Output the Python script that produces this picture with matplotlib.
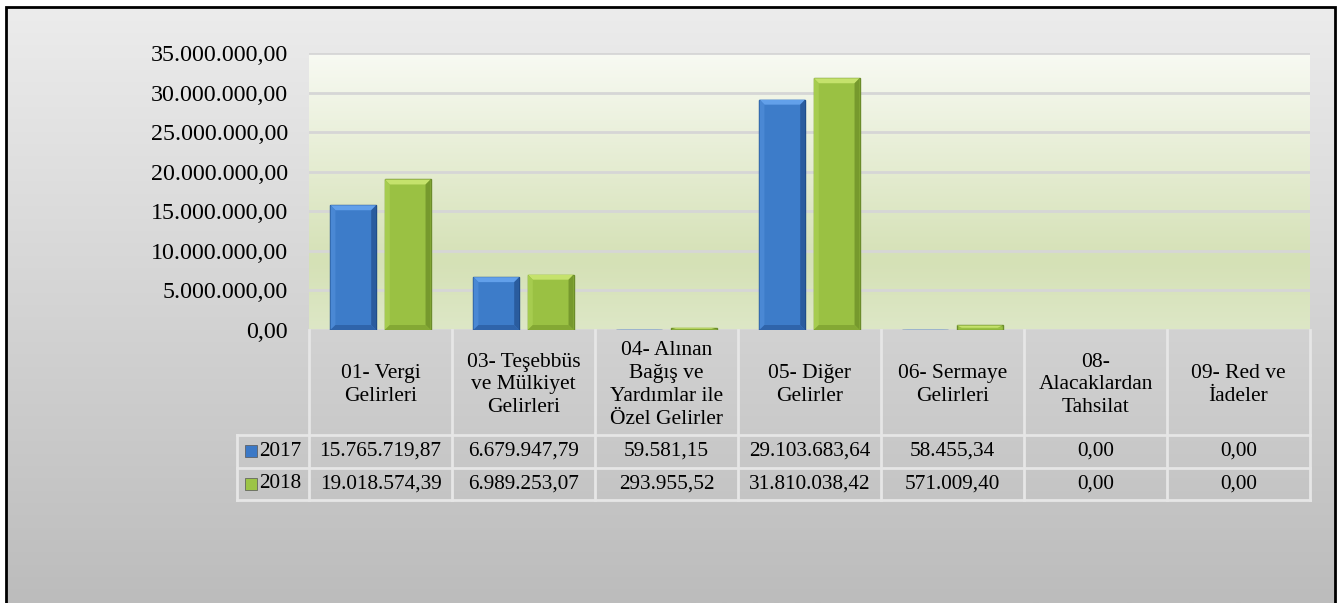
import matplotlib

matplotlib.use("Agg")
import matplotlib.pyplot as plt
import numpy as np
from matplotlib.colors import LinearSegmentedColormap
from matplotlib.patches import Rectangle

plt.rcParams["font.family"] = ["Liberation Serif", "DejaVu Serif"]

# ---- data -----------------------------------------------------------------
categories = [
    "01- Vergi\nGelirleri",
    "03- Teşebbüs\nve Mülkiyet\nGelirleri",
    "04- Alınan\nBağış ve\nYardımlar ile\nÖzel Gelirler",
    "05- Diğer\nGelirler",
    "06- Sermaye\nGelirleri",
    "08-\nAlacaklardan\nTahsilat",
    "09- Red ve\nİadeler",
]
years = ["2017", "2018"]
v2017 = [15765719.87, 6679947.79, 59581.15, 29103683.64, 58455.34, 0.00, 0.00]
v2018 = [19018574.39, 6989253.07, 293955.52, 31810038.42, 571009.40, 0.00, 0.00]
yticks = [0, 5e6, 10e6, 15e6, 20e6, 25e6, 30e6, 35e6]


def tr_fmt(v):
    s = f"{v:,.2f}"
    return s.replace(",", "X").replace(".", ",").replace("X", ".")


W, H = 1339, 603
fig = plt.figure(figsize=(W / 100, H / 100), dpi=100, facecolor="white")

# figure background gradient inside the frame
bg = fig.add_axes([6 / W, 0, (1335 - 6) / W, 1 - 7 / H], zorder=0)
bg_cmap = LinearSegmentedColormap.from_list("bg", ["#bcbcbc", "#ececec"])
bg.imshow(np.linspace(0, 1, 256).reshape(-1, 1), aspect="auto", cmap=bg_cmap,
          origin="lower", extent=[0, 1, 0, 1])
bg.set_axis_off()
fig.patches.append(Rectangle((6 / W, -0.1), (1335 - 6) / W, 1.1 - 7 / H,
                             transform=fig.transFigure, fill=False,
                             edgecolor="black", lw=2, zorder=10))

# ---- plot area ------------------------------------------------------------
L, R, T, B = 309, 1310, 53, 330
ax = fig.add_axes([L / W, 1 - B / H, (R - L) / W, (B - T) / H], zorder=2)
ax.set_xlim(0, len(categories))
ax.set_ylim(0, 35e6)
pa_cmap = LinearSegmentedColormap.from_list(
    "pa", [(0, "#dde7c6"), (0.25, "#d5e1b6"), (1, "#f8faf3")])
ax.imshow(np.linspace(0, 1, 256).reshape(-1, 1), aspect="auto", cmap=pa_cmap,
          origin="lower", extent=[0, len(categories), 0, 35e6], zorder=0)
for t in yticks:
    ax.axhline(t, color="#d6d6d6", lw=2, zorder=1)

x = np.arange(len(categories)) + 0.5
bw = 0.32
off = 0.19
bx = 5 / 143          # bevel width in category units (~5 px)
by = 5 / 277 * 35e6   # bevel height in value units (~5 px)
# face, top bevel, left bevel, right bevel, bottom bevel, edge
series = [
    (v2017, -off, ["#3d7cc9", "#62a0ea", "#4a88d4", "#2a5c9e", "#2f64aa", "#1d4a85"]),
    (v2018, off, ["#9ac143", "#c5e26c", "#a6cc4f", "#76992d", "#84a834", "#6b8c2a"]),
]
for vals, dx, (face, top, left, right, bot, edge) in series:
    for xi, v in zip(x + dx, vals):
        if v <= 0:
            continue
        x0, x1 = xi - bw / 2, xi + bw / 2
        b = min(by, v * 0.5)
        ax.bar(xi, v, bw, color=face, edgecolor=edge, lw=1, zorder=3)
        ax.fill([x0, x1, x1 - bx, x0 + bx], [v, v, v - b, v - b],
                color=top, lw=0, zorder=4)
        if v > 2 * by:
            ax.fill([x0, x0 + bx, x0 + bx, x0], [v, v - b, b, 0],
                    color=left, lw=0, zorder=4)
            ax.fill([x1, x1 - bx, x1 - bx, x1], [v, v - b, b, 0],
                    color=right, lw=0, zorder=4)
            ax.fill([x0, x1, x1 - bx, x0 + bx], [0, 0, b, b],
                    color=bot, lw=0, zorder=4)

ax.set_xticks([])
ax.set_yticks(yticks)
ax.set_yticklabels([tr_fmt(t) for t in yticks], fontsize=17.3)
ax.tick_params(axis="y", length=0, pad=15)
for s in ax.spines.values():
    s.set_visible(False)

# ---- data table -----------------------------------------------------------
ph = B - T
pw = R - L


def ay(py):
    return (B - py) / ph


def axx(px):
    return (px - L) / pw


line_kw = dict(color="#e6e6e6", lw=2, transform=ax.transAxes, clip_on=False,
               zorder=5)
n = len(categories)
# vertical separators
for i in range(n + 1):
    ax.plot([i / n, i / n], [ay(B), ay(500)], **line_kw)
ax.plot([axx(237), axx(237)], [ay(435), ay(500)], **line_kw)
for py in (435, 468, 500):
    ax.plot([axx(237), 1], [ay(py), ay(py)], **line_kw)

for i, c in enumerate(categories):
    ax.text((i + 0.5) / n, ay(385), c, ha="center", va="center", fontsize=15.5,
            linespacing=1.27, transform=ax.transAxes)
row_y = [451.5, 484]
for r, (vals, col) in enumerate(zip([v2017, v2018], ["#3b78c6", "#9cc446"])):
    for i, v in enumerate(vals):
        ax.text((i + 0.5) / n, ay(row_y[r]), tr_fmt(v), ha="center",
                va="center", fontsize=15.3, transform=ax.transAxes)
    ax.add_patch(Rectangle((axx(245), ay(row_y[r] + 6)), 12 / pw, 12 / ph,
                           transform=ax.transAxes, clip_on=False,
                           facecolor=col, edgecolor="#555555", lw=0.5,
                           zorder=6))
    ax.text(axx(259), ay(row_y[r]), years[r], ha="left", va="center",
            fontsize=15.3, transform=ax.transAxes)

fig.savefig("out.png", dpi=100)
